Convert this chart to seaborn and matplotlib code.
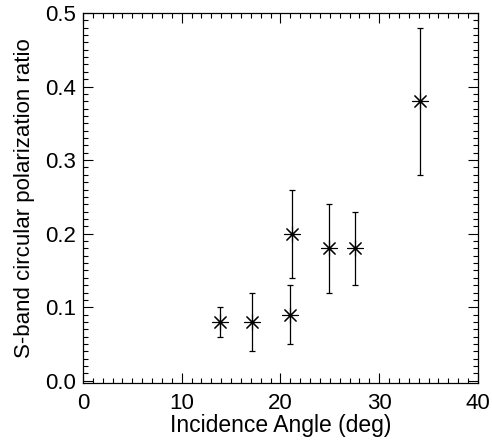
import matplotlib
matplotlib.use("Agg")
import matplotlib.pyplot as plt
import seaborn as sns
import pandas as pd
from matplotlib.ticker import MultipleLocator

# data
angle = [13.9, 17.1, 21.0, 21.2, 24.9, 27.5, 34.1]
ratio = [0.080, 0.080, 0.090, 0.200, 0.180, 0.180, 0.380]
err = [0.020, 0.040, 0.040, 0.060, 0.060, 0.050, 0.100]

df = pd.DataFrame({"angle": angle, "ratio": ratio, "err": err})

sns.set_theme(style="ticks")
plt.rcParams["font.family"] = ["Liberation Sans", "DejaVu Sans"]
plt.rcParams["xtick.direction"] = "in"
plt.rcParams["ytick.direction"] = "in"
plt.rcParams["text.color"] = "black"
plt.rcParams["axes.labelcolor"] = "black"
plt.rcParams["xtick.labelcolor"] = "black"
plt.rcParams["ytick.labelcolor"] = "black"

fig = plt.figure(figsize=(4.92, 4.42), dpi=100)
ax = fig.add_axes([0.1687, 0.1335, 0.8028, 0.8371])

ax.errorbar(df["angle"], df["ratio"], yerr=df["err"], fmt="none",
            ecolor="black", elinewidth=0.9, capsize=2.2, capthick=0.9)
sns.scatterplot(data=df, x="angle", y="ratio", marker=(8, 2, 0), s=130,
                color="black", linewidth=0.8, ax=ax, zorder=3)

ax.set_xlim(0, 40)
ax.set_ylim(-0.003, 0.5)
ax.xaxis.set_major_locator(MultipleLocator(10))
ax.xaxis.set_minor_locator(MultipleLocator(1))
ax.yaxis.set_minor_locator(MultipleLocator(0.01))
ax.set_yticks([0, 0.1, 0.2, 0.3, 0.4, 0.5])
ax.set_yticklabels(["0.0", "0.1", "0.2", "0.3", "0.4", "0.5"])
ax.tick_params(which="both", top=True, right=True, color="black",
               labelsize=16, width=0.8)
ax.tick_params(axis="x", pad=7)
ax.tick_params(axis="y", pad=5)
ax.tick_params(which="major", length=7)
ax.tick_params(which="minor", length=3.5)
for s in ax.spines.values():
    s.set_color("black")
    s.set_linewidth(0.9)

ax.set_xlabel("Incidence Angle (deg)", fontsize=16.5, labelpad=0)
ax.set_ylabel("S-band circular polarization ratio", fontsize=16, labelpad=7)

fig.savefig("out.png", dpi=100)
